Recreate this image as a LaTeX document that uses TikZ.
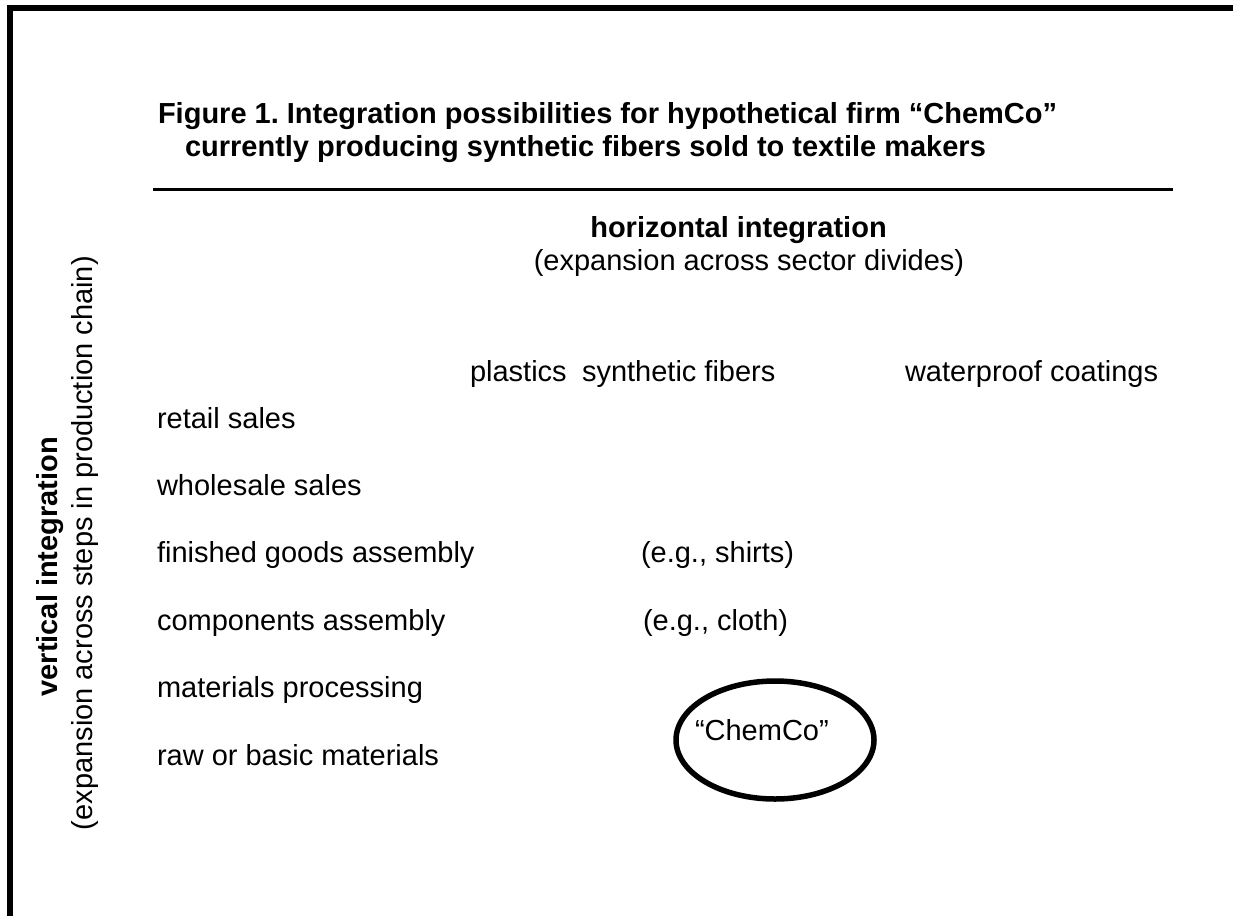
\documentclass[tikz,border=0pt]{standalone}
\usepackage{fontspec}
\setmainfont{Liberation Sans}
\frenchspacing
\tikzset{
  txt/.style={inner sep=0pt, outer sep=0pt, font=\fontsize{29}{33}\selectfont},
  btxt/.style={txt, font=\fontsize{29}{33}\selectfont\bfseries},
  rowlbl/.style={txt, anchor=base west},
  collbl/.style={txt, anchor=base west},
  frame/.style={line width=6pt, line join=miter},
  rule/.style={line width=3pt},
  firmring/.style={line width=5.5pt, line join=round, line cap=round}
}
\begin{document}
\begin{tikzpicture}[x=1pt, y=-1pt]
\useasboundingbox (0,0) rectangle (1233,916);
% frame (top and left)
\coordinate (fbl) at (10,916);
\coordinate (ftl) at (10,8);
\coordinate (ftr) at (1233,8);
\draw[frame] (fbl) -- (ftl) -- (ftr);
% title
\node[btxt, anchor=base west] (title1) at (158,123) {Figure 1. Integration possibilities for hypothetical firm “ChemCo”};
\node[btxt, anchor=base west] (title2) at (185,156) {currently producing synthetic fibers sold to textile makers};
\coordinate (rl) at (153,189);
\coordinate (rr) at (1173,189);
\draw[rule] (rl) -- (rr);
% horizontal axis heading
\node[btxt, anchor=base] (hint) at (738.5,237) {horizontal integration};
\node[txt, anchor=base] (hsub) at (749,270) {(expansion across sector divides)};
% vertical axis heading
\node[btxt, anchor=base east, rotate=90] (vint) at (57,437) {vertical integration};
\node[txt, anchor=base west, rotate=90] (vsub) at (92,830) {(expansion across steps in production chain)};
% column headers
\node[collbl] (plastics) at (470,381) {plastics};
\node[collbl] (fibers) at (582,381) {synthetic fibers};
\node[collbl] (coatings) at (905,381) {waterproof coatings};
% rows
\node[rowlbl] (retail) at (157,428) {retail sales};
\node[rowlbl] (wholesale) at (157,495.4) {wholesale sales};
\node[rowlbl] (finished) at (157,562.8) {finished goods assembly};
\node[rowlbl] (components) at (157,630.2) {components assembly};
\node[rowlbl] (processing) at (157,697.6) {materials processing};
\node[rowlbl] (raw) at (157,765) {raw or basic materials};
% examples
\node[rowlbl] (shirts) at (641,562.8) {(e.g., shirts)};
\node[rowlbl] (cloth) at (643,630.2) {(e.g., cloth)};
% the firm
\coordinate (firm) at (775,740);
\draw[firmring] (firm) ellipse [x radius=99, y radius=59];
\node[rowlbl] (chemco) at (695,740) {“ChemCo”};
\end{tikzpicture}
\end{document}
